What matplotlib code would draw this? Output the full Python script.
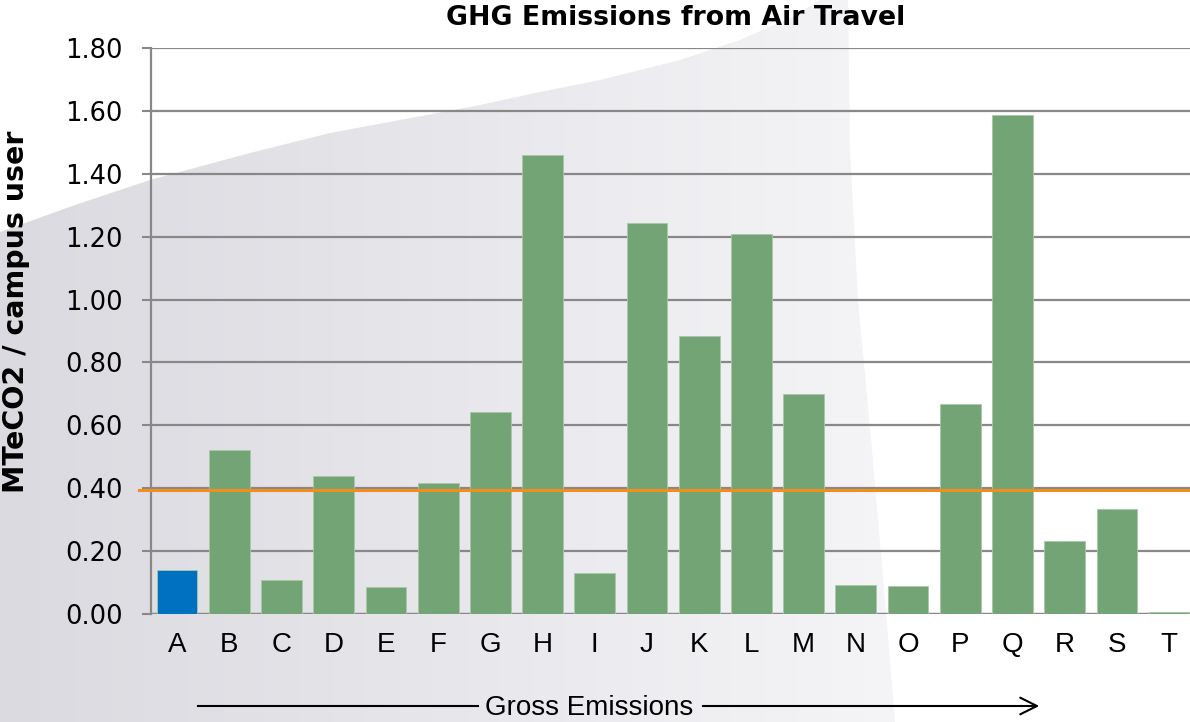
import numpy as np
import matplotlib as mpl
mpl.use('Agg')
import matplotlib.pyplot as plt
from matplotlib.patches import Polygon, FancyArrowPatch

categories = list('ABCDEFGHIJKLMNOPQRST')
values = [0.14, 0.52, 0.108, 0.44, 0.086, 0.417, 0.643, 1.46, 0.13, 1.244,
          0.884, 1.209, 0.70, 0.092, 0.089, 0.668, 1.587, 0.232, 0.334, 0.006]
highlight = 'A'
average = 0.394
y_ticks = [0.0, 0.2, 0.4, 0.6, 0.8, 1.0, 1.2, 1.4, 1.6, 1.8]

W, H = 1190, 722
fig = plt.figure(figsize=(W / 100, H / 100), dpi=100)

# grey photo-like shape in the background
bg = fig.add_axes([0, 0, 1, 1], zorder=0)
bg.set_xlim(0, W)
bg.set_ylim(H, 0)
bg.axis('off')
grad = np.linspace(0, 1, 256)[None, :]
cmap = mpl.colors.LinearSegmentedColormap.from_list('g', ['#dadae0', '#e2e2e7', '#ececf0', '#f5f5f7'])
img = bg.imshow(grad, extent=[0, 900, H, 0], cmap=cmap, aspect='auto')
shape_pts = [(0, H), (0, 232), (75, 205), (150, 180), (250, 153), (330, 133),
             (400, 120), (480, 105), (540, 92), (600, 80), (680, 60), (740, 40),
             (790, 18), (820, 0), (848, 0), (850, 150), (858, 300), (872, 450),
             (885, 600), (895, H)]
clip = Polygon(shape_pts, closed=True, transform=bg.transData, facecolor='none', edgecolor='none')
bg.add_patch(clip)
img.set_clip_path(clip)

ax = fig.add_axes([151 / W, 1 - 614 / H, 1 - 151 / W, (614 - 48) / H], zorder=1)
ax.patch.set_alpha(0)

x = np.arange(len(categories))
colors = ['#0070c0' if c == highlight else '#72a476' for c in categories]
ax.bar(x, values, width=0.78, color=colors, edgecolor='#a9c7aa', linewidth=0.6, zorder=3)

ax.plot([-0.012, 1], [average, average], transform=ax.get_yaxis_transform(),
        color='#f28e1c', linewidth=2.2, zorder=4, clip_on=False)

ax.set_ylim(0, 1.8)
ax.set_xlim(-0.5, 19.4)
ax.set_yticks(y_ticks)
ax.set_yticklabels([f'{v:.2f}' for v in y_ticks], fontsize=18.5, family='DejaVu Sans')
ax.set_xticks(x)
ax.set_xticklabels(categories, fontsize=20, family='Liberation Sans')
ax.tick_params(axis='x', length=0, pad=13)
ax.tick_params(axis='y', length=6.5, width=1.5, color='#888888', pad=14)
ax.grid(axis='y', color='#888888', linewidth=1.6, zorder=1)
for s in ['top', 'right', 'bottom']:
    ax.spines[s].set_visible(False)
ax.spines['left'].set_color('#888888')
ax.spines['left'].set_linewidth(1.6)
ax.axhline(0, color='#888888', linewidth=1.6, zorder=2)

ax.set_ylabel('MTeCO2 / campus user', fontsize=20.5, fontweight='bold')
ax.yaxis.set_label_coords(-0.116, 0.534)
fig.text(676 / W, 1 - 18 / H, 'GHG Emissions from Air Travel', ha='center', va='center',
         fontsize=19.3, fontweight='bold')

# arrow under the axis
fig.text(589 / W, 1 - 708 / H, 'Gross Emissions', ha='center', va='center',
         fontsize=20, family='Liberation Sans')
fig.add_artist(plt.Line2D([198 / W, 478 / W], [1 - 706 / H, 1 - 706 / H], color='black', linewidth=1.5))
fig.add_artist(FancyArrowPatch((700 / W, 1 - 706 / H), (1042 / W, 1 - 706 / H),
               transform=fig.transFigure, arrowstyle='->,head_length=12,head_width=6',
               color='black', linewidth=1.5))

fig.savefig('out.png', dpi=100)
